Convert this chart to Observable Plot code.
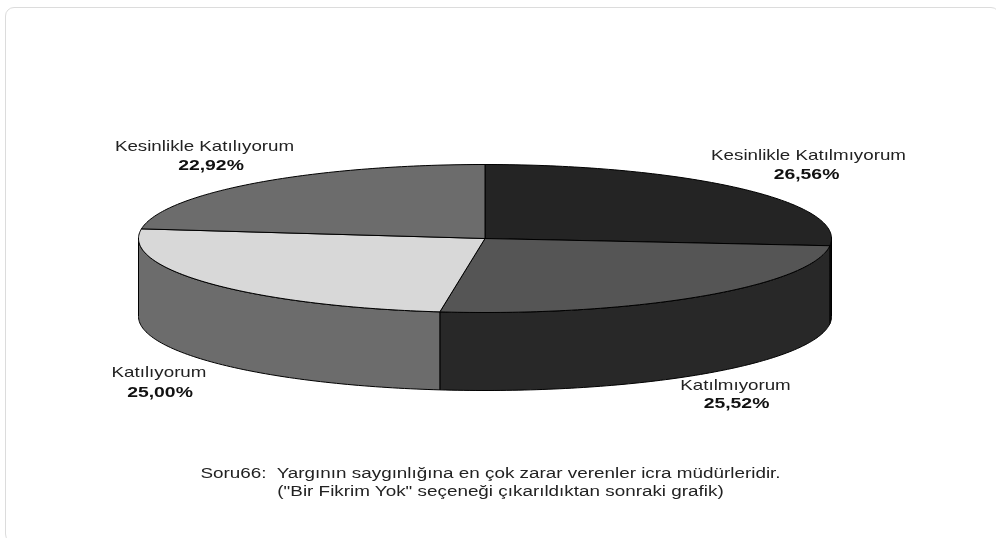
<!DOCTYPE html>
<html><head><meta charset="utf-8">
<script src="https://cdn.jsdelivr.net/npm/d3@7"></script>
<script src="https://cdn.jsdelivr.net/npm/@observablehq/plot@0.6"></script>
<style>
html,body{margin:0;padding:0;background:#fff;width:996px;height:538px;overflow:hidden}
#frame{position:absolute;left:5px;top:7px;width:995px;height:536px;border:1.5px solid #dcdcdc;border-radius:9px;box-sizing:border-box}
#chart{position:absolute;left:0;top:0}
svg{display:block;background:transparent;filter:blur(.35px)}
</style></head><body>
<div id="frame"></div><div id="chart"></div>
<script>
const categories = ["Kesinlikle Katılmıyorum","Katılmıyorum","Katılıyorum","Kesinlikle Katılıyorum"];
const shares = [26.56,25.52,25.00,22.92];
const shareLabels = ["26,56%","25,52%","25,00%","22,92%"];
const topColors = ["#242424","#555555","#d8d8d8","#6c6c6c"];
const wallColors = ["#111111","#282828","#6c6c6c","#6c6c6c"];
const labelX = [808,735,158.5,204];
const labelY = [155,385,372,146];
const valueX = [806,736,159.5,210.5];
const valueY = [173.5,402.5,391.5,164.5];
const captionLines = ["Soru66:  Yargının saygınlığına en çok zarar verenler icra müdürleridir.","(\"Bir Fikrim Yok\" seçeneği çıkarıldıktan sonraki grafik)"];
const captionX = [490,500];
const captionY = [473,491];

const cx=484.5, cy=238, rx=346.5, ry=74, depth=78;
const stretch={label:1.25,value:1.25,caption:1.217};
const total=d3.sum(shares);
const pt=(deg,dy=0)=>({x:cx+rx*Math.sin(deg*Math.PI/180),y:cy-ry*Math.cos(deg*Math.PI/180)+dy});
const arc=(a,b,dy=0)=>{const n=Math.max(1,Math.ceil(Math.abs(b-a)));return d3.range(n+1).map(i=>pt(a+(b-a)*i/n,dy));};

let acc=0;
const slices=categories.map((c,i)=>{const a=acc/total*360;acc+=shares[i];return {i,c,a,b:acc/total*360};});
const tops=[],walls=[];
for(const s of slices){
  [{x:cx,y:cy},...arc(s.a,s.b),{x:cx,y:cy}].forEach(p=>tops.push({...p,key:s.c,fill:topColors[s.i]}));
  const a=Math.max(s.a,90),b=Math.min(s.b,270);
  if(a<b){
    [...arc(a,b),...arc(b,a,depth),pt(a)].forEach(p=>walls.push({...p,key:s.c,fill:wallColors[s.i]}));
  }
}
const labels=categories.map((c,i)=>({c,v:shareLabels[i],x:labelX[i],y:labelY[i],vx:valueX[i],vy:valueY[i]}));
const caption=captionLines.map((t,i)=>({t,x:captionX[i],y:captionY[i]}));
const font="Liberation Sans, Arial, sans-serif";
const plot=Plot.plot({
  width:996,height:538,margin:0,
  x:{domain:[0,996],range:[0,996],axis:null},
  y:{domain:[0,538],range:[0,538],axis:null},
  style:{fontFamily:font,background:"transparent"},
  marks:[
    Plot.line(walls,{x:"x",y:"y",z:"key",fill:"fill",stroke:"#000",strokeWidth:1,curve:"linear"}),
    Plot.line(tops,{x:"x",y:"y",z:"key",fill:"fill",stroke:"#000",strokeWidth:1,curve:"linear"}),
    Plot.text(labels,{x:"x",y:"y",text:"c",fontSize:15,fill:"#222",fontFamily:font,className:"label"}),
    Plot.text(labels,{x:"vx",y:"vy",text:"v",fontSize:15.5,fontWeight:"bold",fill:"#111",fontFamily:font,className:"value"}),
    Plot.text(caption,{x:"x",y:"y",text:"t",fontSize:15.5,fill:"#222",fontFamily:font,className:"caption"})
  ]
});
document.getElementById("chart").appendChild(plot);
// the reference's text is horizontally stretched
for(const [cls,k] of Object.entries(stretch)){
  plot.querySelectorAll("."+cls+" text, text."+cls).forEach(t=>{
    const len=t.getComputedTextLength();
    if(len>0){t.setAttribute("textLength",len*k);t.setAttribute("lengthAdjust","spacingAndGlyphs");}
  });
}
</script></body></html>
